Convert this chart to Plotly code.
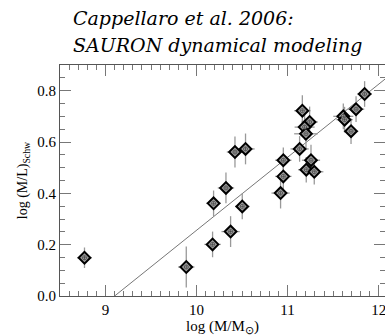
import plotly.graph_objects as go

log_mass = [11.846, 11.752, 11.612, 11.626, 11.697, 11.162, 11.242, 11.187, 11.202, 11.132,
            10.953, 11.257, 11.205, 11.293, 10.953, 10.923, 10.422, 10.538, 10.323, 10.187,
            10.502, 10.374, 10.176, 9.887, 8.769]
log_ml = [0.787, 0.728, 0.700, 0.687, 0.642, 0.722, 0.678, 0.658, 0.632, 0.573,
          0.529, 0.529, 0.492, 0.484, 0.466, 0.401, 0.561, 0.573, 0.421, 0.361,
          0.349, 0.251, 0.201, 0.113, 0.149]
mass_err = [0.08, 0.09, 0.11, 0.09, 0.08, 0.09, 0.09, 0.11, 0.13, 0.10,
            0.09, 0.10, 0.09, 0.10, 0.09, 0.10, 0.09, 0.10, 0.09, 0.08,
            0.08, 0.10, 0.09, 0.09, 0.08]
ml_err = [0.05, 0.05, 0.05, 0.05, 0.05, 0.06, 0.06, 0.05, 0.06, 0.05,
          0.05, 0.06, 0.05, 0.05, 0.06, 0.06, 0.06, 0.06, 0.06, 0.05,
          0.05, 0.06, 0.05, 0.08, 0.04]
fit_x = [9.10, 12.07]
fit_y = [0.0, 0.845]
title_lines = ["Cappellaro et al. 2006:", "SAURON dynamical modeling"]
x_range = [8.5, 12.07]
y_range = [0, 0.9]

serif = "Liberation Serif, Times New Roman, serif"
title_font = "DejaVu Serif"
grey = "#999999"

fig = go.Figure()
fig.add_trace(go.Scatter(x=fit_x, y=fit_y, mode="lines",
                         line=dict(color="#666666", width=0.9), showlegend=False))
fig.add_trace(go.Scatter(
    x=log_mass, y=log_ml, mode="markers", showlegend=False,
    error_x=dict(type="data", array=mass_err, color=grey, thickness=1.3, width=0),
    error_y=dict(type="data", array=ml_err, color=grey, thickness=1.3, width=0),
    marker=dict(symbol="diamond", size=9, color="#9a9a9a",
                line=dict(color="black", width=2))))
fig.add_trace(go.Scatter(
    x=log_mass, y=log_ml, mode="markers", showlegend=False,
    marker=dict(symbol="circle-cross", size=4, color="#d0d0d0",
                line=dict(color="#444444", width=0.8))))
# empty trace so the mirrored (top/right) axes get drawn
fig.add_trace(go.Scatter(x=[], y=[], xaxis="x2", yaxis="y2", showlegend=False, hoverinfo="skip"))

tick_style = dict(
    showgrid=False, zeroline=False, showline=True, linecolor="#555555", linewidth=1,
    ticks="inside", tickcolor="#777777", ticklen=11, tickwidth=1,
    ticklabeloverflow="allow",
    tickfont=dict(family=serif, size=15, color="black"),
)
x_ticks = dict(tickmode="linear", tick0=9, dtick=1,
               minor=dict(tick0=9, dtick=0.1, ticks="inside", ticklen=5, tickcolor="#777777",
                          showgrid=False))
y_ticks = dict(tickmode="linear", tick0=0, dtick=0.2, tickformat=".1f",
               minor=dict(tick0=0, dtick=0.05, ticks="inside", ticklen=5, tickcolor="#777777",
                          showgrid=False))

fig.update_layout(
    width=385, height=336,
    margin=dict(l=60, r=0, t=65, b=40),
    plot_bgcolor="white", paper_bgcolor="white",
    xaxis=dict(range=x_range,
               title=dict(text="log (M/M<sub>⊙</sub>)",
                          font=dict(family=serif, size=15, color="black"), standoff=0),
               **x_ticks, **tick_style),
    yaxis=dict(range=y_range,
               title=dict(text="log (M/L)<sub>Schw</sub>",
                          font=dict(family=serif, size=14, color="black"), standoff=6),
               **y_ticks, **tick_style),
    xaxis2=dict(range=x_range, overlaying="x", side="top", anchor="y",
                showticklabels=False, **x_ticks, **tick_style),
    yaxis2=dict(range=y_range, overlaying="y", side="right", anchor="x",
                showticklabels=False, **y_ticks, **tick_style),
    annotations=[
        dict(text=title_lines[0],
             font=dict(family=title_font, size=19, color="black", style="italic"),
             xref="paper", yref="paper", x=0.035, y=1.2035, xanchor="left", yanchor="middle",
             align="left", showarrow=False),
        dict(text=title_lines[1],
             font=dict(family=title_font, size=19, color="black", style="italic"),
             xref="paper", yref="paper", x=0.035, y=1.0866, xanchor="left", yanchor="middle",
             align="left", showarrow=False),
    ],
)

fig.write_html("out.html")
